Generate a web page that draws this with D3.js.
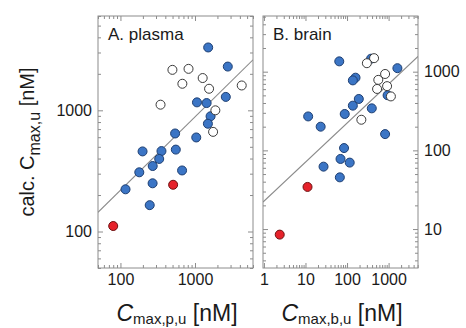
<!DOCTYPE html>
<html><head><meta charset="utf-8">
<script src="https://cdn.jsdelivr.net/npm/d3@7"></script>
<style>
html,body{margin:0;padding:0;background:#fff;}
svg{display:block;font-family:"Liberation Sans",Arial,Helvetica,sans-serif;}
</style></head>
<body><svg id="c" width="466" height="328"></svg>
<script>
// ---- data (nM) ----
// Panel A: plasma  [x = Cmax,p,u , y = calc. Cmax,u]
const plasmaBlue = [[1503,3300],[2754,2296],[2590,1290],[1063,1163],[1432,1148],[1618,893],[1490,775],
  [541,644],[1040,597],[198,458],[355,461],[553,474],[331,397],[271,347],[179,308],[671,319],
  [117,223],[270,250],[247,165]];
const plasmaOpen = [[498,2157],[819,2198],[677,1656],[1268,1846],[1545,1506],[4236,1603],[345,1113],
  [1876,1000],[1749,664]];
const plasmaRed = [[509,243],[80,111]];
const plasmaLine = [[50,144],[6000,2610]];
// Panel B: brain  [x = Cmax,b,u , y = calc. Cmax,u]
const brainBlue = [[65,1352],[1629,1108],[160,839],[138,775],[192,450],[138,370],[88,290],[394,342],
  [11.6,270],[23.2,200],[824,161],[946,502],[379,1463],[84.7,107],[69.7,77.8],[116,69.9],[27.2,62.1],[67.1,45.4]];
const brainOpen = [[447,1485],[300,1282],[824,935],[565,787],[920,655],[528,603],[1136,485],[221,245]];
const brainRed = [[11.2,34.3],[2.4,8.5]];
const brainLine = [[0.95,22.0],[5100,1563]];
// axis ticks
const aXTicks = [100,1000], aXLabels = ["100","1000"];
const aYTicks = [100,1000], aYLabels = ["100","1000"];
const bXTicks = [1,10,100,1000], bXLabels = ["1","10","100","1000"];
const bYTicks = [10,100,1000], bYLabels = ["10","100","1000"];

const svg = d3.select("#c");
const frameCol = "#8c8c8c", textCol = "#1a1a1a";
const blueFill = "#3b75c5", blueStroke = "#1e3f72";
const redFill = "#e6222b", redStroke = "#6e1010";
const R = 4.5;

function panel(o){
  const x = d3.scaleLog().domain(o.xd).range([o.x0,o.x1]);
  const y = d3.scaleLog().domain(o.yd).range([o.y1,o.y0]);
  const g = svg.append("g");
  const minorX = x.ticks().filter(v=>!o.xt.includes(v));
  const minorY = y.ticks().filter(v=>!o.yt.includes(v));
  function ax(axisFn, scale, vals, size, fmt, tr, labels){
    const a = axisFn(scale).tickValues(vals).tickSize(size).tickPadding(6)
      .tickFormat(fmt ? ((d,i)=>labels[i]) : "");
    const gg = g.append("g").attr("transform",tr).call(a);
    gg.select(".domain").remove();
    gg.selectAll("line").attr("stroke",frameCol);
    gg.selectAll("text").attr("fill",textCol).style("font-size","16px")
      .style("font-family","'Liberation Sans',Arial,sans-serif");
    return gg;
  }
  // bottom
  ax(d3.axisBottom,x,o.xt,-5,true,`translate(0,${o.y1})`,o.xl);
  ax(d3.axisBottom,x,minorX,-3,false,`translate(0,${o.y1})`);
  // top
  ax(d3.axisTop,x,o.xt,-5,false,`translate(0,${o.y0})`);
  ax(d3.axisTop,x,minorX,-3,false,`translate(0,${o.y0})`);
  // left
  ax(d3.axisLeft,y,o.yt,-5,o.labelSide==="left",`translate(${o.x0},0)`,o.yl);
  ax(d3.axisLeft,y,minorY,-3,false,`translate(${o.x0},0)`);
  // right
  ax(d3.axisRight,y,o.yt,-5,o.labelSide==="right",`translate(${o.x1},0)`,o.yl);
  ax(d3.axisRight,y,minorY,-3,false,`translate(${o.x1},0)`);
  // frame
  g.append("rect").attr("x",o.x0).attr("y",o.y0).attr("width",o.x1-o.x0).attr("height",o.y1-o.y0)
    .attr("fill","none").attr("stroke",frameCol).attr("stroke-width",1);
  // line
  const clipId = "clip"+o.id;
  svg.append("clipPath").attr("id",clipId).append("rect")
    .attr("x",o.x0).attr("y",o.y0).attr("width",o.x1-o.x0).attr("height",o.y1-o.y0);
  g.append("line").attr("clip-path",`url(#${clipId})`)
    .attr("x1",x(o.line[0][0])).attr("y1",y(o.line[0][1]))
    .attr("x2",x(o.line[1][0])).attr("y2",y(o.line[1][1]))
    .attr("stroke","#8a8a8a").attr("stroke-width",1.1);
  function pts(data, fill, stroke){
    g.append("g").selectAll("circle").data(data).join("circle")
      .attr("cx",d=>x(d[0])).attr("cy",d=>y(d[1])).attr("r",R)
      .attr("fill",fill).attr("stroke",stroke).attr("stroke-width",1);
  }
  pts(o.blue, blueFill, blueStroke);
  pts(o.open, "#fff", "#3a3a3a");
  pts(o.red, redFill, redStroke);
  g.append("text").attr("x",o.x0+10).attr("y",o.y0+24).text(o.title)
    .attr("fill",textCol).style("font-size","17px");
  return {x,y};
}

panel({id:"A",x0:98,x1:253,y0:16,y1:268,xd:[50,6000],yd:[50,6000],
  xt:aXTicks,xl:aXLabels,yt:aYTicks,yl:aYLabels,labelSide:"left",
  blue:plasmaBlue,open:plasmaOpen,red:plasmaRed,line:plasmaLine,title:"A. plasma"});
panel({id:"B",x0:263,x1:418,y0:16,y1:268,xd:[0.95,5100],yd:[3.2,5100],
  xt:bXTicks,xl:bXLabels,yt:bYTicks,yl:bYLabels,labelSide:"right",
  blue:brainBlue,open:brainOpen,red:brainRed,line:brainLine,title:"B. brain"});

// axis titles
function xTitle(cx, sub){
  const t = svg.append("text").attr("x",cx).attr("y",321).attr("text-anchor","middle")
    .attr("fill",textCol).style("font-size","23px");
  t.append("tspan").text("C").style("font-style","italic");
  t.append("tspan").text(sub).style("font-size","15px").attr("dy",3);
  t.append("tspan").text(" [nM]").attr("dy",-3);
}
xTitle(177,"max,p,u");
xTitle(342,"max,b,u");
const yt = svg.append("text").attr("transform","translate(34,142) rotate(-90)")
  .attr("text-anchor","middle").attr("fill",textCol).style("font-size","20px");
yt.append("tspan").text("calc. C");
yt.append("tspan").text("max,u").style("font-size","16px").attr("dy",6);
yt.append("tspan").text(" [nM]").attr("dy",-6);
</script></body></html>
